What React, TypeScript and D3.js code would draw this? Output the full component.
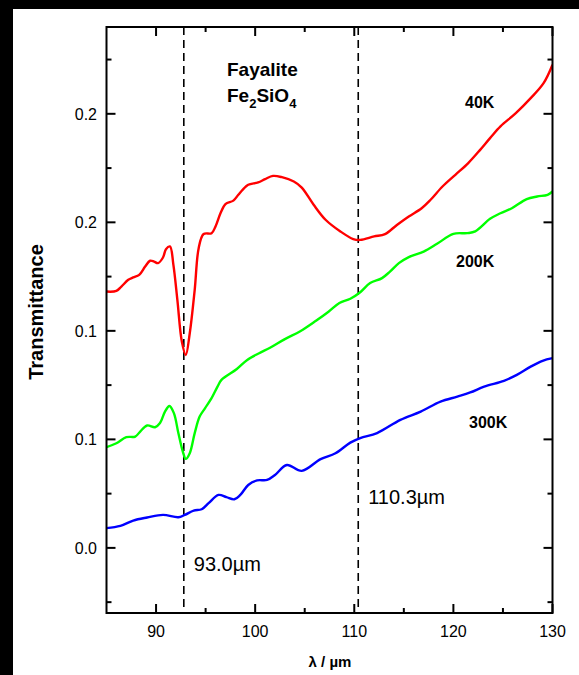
import React, { useEffect } from "react";
import * as d3 from "d3";

// spectra: [wavelength µm, transmittance]
const k40: [number, number][] = [
  [85.0, 0.1181], [86.0, 0.1184], [86.5, 0.1204], [87.2, 0.1235], [87.7, 0.1246],
  [88.3, 0.1258], [88.9, 0.1296], [89.4, 0.1323], [89.8, 0.1319], [90.2, 0.1312],
  [90.7, 0.1338], [91.0, 0.1376], [91.4, 0.1389], [91.75, 0.1304], [92.15, 0.1143],
  [92.6, 0.0951], [93.0, 0.0889], [93.4, 0.0989], [93.9, 0.1189], [94.3, 0.1381],
  [94.8, 0.1446], [95.6, 0.145], [96.0, 0.1481], [96.5, 0.1542], [97.0, 0.1584],
  [97.8, 0.16], [98.3, 0.1627], [98.8, 0.1653], [99.3, 0.1673], [100.3, 0.1684],
  [101.0, 0.1699], [101.8, 0.1714], [102.7, 0.1708], [103.9, 0.1688], [104.7, 0.166],
  [105.9, 0.1581], [107.1, 0.1512], [108.6, 0.1458], [109.9, 0.1423], [110.6, 0.1419],
  [112.0, 0.1435], [113.1, 0.1446], [114.3, 0.1488], [115.5, 0.1527], [116.8, 0.1565],
  [117.7, 0.1604], [118.9, 0.1665], [120.2, 0.1719], [121.5, 0.1773], [122.7, 0.1834],
  [123.7, 0.1888], [124.75, 0.1942], [126.3, 0.2003], [127.8, 0.2072], [129.1, 0.2141],
  [130.0, 0.2226],
];
const k200: [number, number][] = [
  [85.0, 0.0464], [86.0, 0.0482], [87.0, 0.051], [87.9, 0.0513], [88.4, 0.0536],
  [89.1, 0.0564], [89.9, 0.0556], [90.4, 0.0575], [90.9, 0.0628], [91.35, 0.0654],
  [91.8, 0.0621], [92.25, 0.0529], [92.7, 0.0444], [93.0, 0.041], [93.4, 0.0436],
  [93.9, 0.0529], [94.4, 0.0605], [94.95, 0.0644], [95.6, 0.069], [96.2, 0.0743],
  [96.6, 0.0774], [98.15, 0.0824], [99.2, 0.0866], [100.4, 0.0897], [101.5, 0.0922],
  [103.0, 0.0962], [104.55, 0.0998], [106.1, 0.1045], [107.4, 0.1088], [108.5, 0.1128],
  [109.6, 0.1148], [110.6, 0.1178], [111.6, 0.122], [112.8, 0.1243], [113.6, 0.1273],
  [114.5, 0.1312], [115.5, 0.134], [117.0, 0.1365], [118.35, 0.1401], [120.0, 0.1447],
  [121.4, 0.145], [122.2, 0.1458], [123.7, 0.1516], [124.75, 0.1542], [125.9, 0.1565],
  [127.4, 0.1607], [128.45, 0.1619], [129.5, 0.1627], [130.0, 0.1642],
];
const k300: [number, number][] = [
  [85.0, 0.0091], [86.4, 0.0101], [87.7, 0.0126], [89.1, 0.014], [90.7, 0.0152],
  [92.25, 0.0141], [92.9, 0.0152], [93.8, 0.0172], [94.6, 0.0178], [95.3, 0.0206],
  [96.3, 0.0244], [97.1, 0.0234], [97.9, 0.0224], [98.5, 0.0244], [99.3, 0.029],
  [100.2, 0.0311], [101.2, 0.0313], [102.0, 0.0336], [103.2, 0.0382], [104.7, 0.0355],
  [106.6, 0.0409], [108.1, 0.0436], [109.6, 0.0485], [110.6, 0.0506], [112.3, 0.0529],
  [114.65, 0.059], [116.7, 0.0628], [118.7, 0.0674], [120.4, 0.0697], [121.7, 0.0716],
  [123.1, 0.0743], [125.1, 0.077], [126.4, 0.0797], [127.8, 0.0835], [129.0, 0.0862],
  [130.0, 0.0874],
];

const series = [
  { name: "40K", data: k40, color: "#ff0000", lx: 465, ly: 108 },
  { name: "200K", data: k200, color: "#00ff00", lx: 456, ly: 267 },
  { name: "300K", data: k300, color: "#0000ff", lx: 469, ly: 428 },
];

const xMajor = [90, 100, 110, 120, 130];
const xMinor = [95, 105, 115, 125];
const yMajor = [0, 0.05, 0.1, 0.15, 0.2];
const yTickLabels = ["0.0", "0.1", "0.1", "0.2", "0.2"];
const yMinor = [-0.025, 0.025, 0.075, 0.125, 0.175, 0.225];
const peaks = [
  { pos: 92.8, label: "93.0", ty: 571 },
  { pos: 110.4, label: "110.3", ty: 504 },
];

const W = 579;
const H = 675;
const L = 106.5, R = 552.5, T = 27, B = 613;

export default function App() {
  useEffect(() => {
    document.body.style.margin = "0";
  }, []);

  const x = d3.scaleLinear().domain([85, 130]).range([L, R]);
  const y = d3.scaleLinear().domain([-0.03, 0.24]).range([B, T]);
  const line = d3
    .line<[number, number]>()
    .x((d) => x(d[0]))
    .y((d) => y(d[1]))
    .curve(d3.curveCatmullRom.alpha(0.5));

  const font = "Liberation Sans, Arial, sans-serif";

  return (
    <svg width={W} height={H} style={{ display: "block", fontFamily: font }}>
      <rect x={0} y={0} width={W} height={H} fill="#000" />
      <rect x={13} y={9} width={W - 13} height={H - 9} fill="#fff" />
      <defs>
        <clipPath id="plot">
          <rect x={L} y={T} width={R - L} height={B - T} />
        </clipPath>
      </defs>

      {/* dashed markers */}
      {peaks.map((p) => (
        <g key={p.label}>
          <line x1={x(p.pos)} x2={x(p.pos)} y1={T} y2={B} stroke="#000" strokeWidth={1.6} strokeDasharray="8,5" />
          <text x={x(p.pos) + 10} y={p.ty} fontSize={20} fill="#000">
            {p.label}µm
          </text>
        </g>
      ))}

      <g clipPath="url(#plot)">
        {series.map((s) => (
          <path key={s.name} d={line(s.data) || ""} fill="none" stroke={s.color} strokeWidth={2.4} />
        ))}
      </g>

      {series.map((s) => (
        <text key={s.name} x={s.lx} y={s.ly} fontSize={16} fontWeight="bold">
          {s.name}
        </text>
      ))}

      <text x={227} y={76} fontSize={19} fontWeight="bold">Fayalite</text>
      <text x={227} y={102} fontSize={19} fontWeight="bold">
        Fe<tspan fontSize={13} dy={6}>2</tspan>
        <tspan dy={-6}>SiO</tspan>
        <tspan fontSize={13} dy={6}>4</tspan>
      </text>

      {/* frame */}
      <rect x={L} y={T} width={R - L} height={B - T} fill="none" stroke="#000" strokeWidth={2} />

      {xMajor.map((v) => (
        <g key={"xM" + v}>
          <line x1={x(v)} x2={x(v)} y1={B} y2={B - 9} stroke="#000" strokeWidth={2} />
          <line x1={x(v)} x2={x(v)} y1={T} y2={T + 9} stroke="#000" strokeWidth={2} />
          <text x={x(v)} y={637} fontSize={16} textAnchor="middle">{v}</text>
        </g>
      ))}
      {xMinor.map((v) => (
        <g key={"xm" + v}>
          <line x1={x(v)} x2={x(v)} y1={B} y2={B - 5} stroke="#000" strokeWidth={2} />
          <line x1={x(v)} x2={x(v)} y1={T} y2={T + 5} stroke="#000" strokeWidth={2} />
        </g>
      ))}
      {yMajor.map((v, i) => (
        <g key={"yM" + v}>
          <line x1={L} x2={L + 9} y1={y(v)} y2={y(v)} stroke="#000" strokeWidth={2} />
          <line x1={R} x2={R - 9} y1={y(v)} y2={y(v)} stroke="#000" strokeWidth={2} />
          <text x={97} y={y(v) + 6} fontSize={16} textAnchor="end">{yTickLabels[i]}</text>
        </g>
      ))}
      {yMinor.map((v) => (
        <g key={"ym" + v}>
          <line x1={L} x2={L + 5} y1={y(v)} y2={y(v)} stroke="#000" strokeWidth={2} />
          <line x1={R} x2={R - 5} y1={y(v)} y2={y(v)} stroke="#000" strokeWidth={2} />
        </g>
      ))}

      <text x={330} y={667} fontSize={15} fontWeight="bold" textAnchor="middle">λ / µm</text>
      <text
        transform="translate(43,312) rotate(-90)"
        fontSize={20}
        fontWeight="bold"
        textAnchor="middle"
      >
        Transmittance
      </text>
    </svg>
  );
}
